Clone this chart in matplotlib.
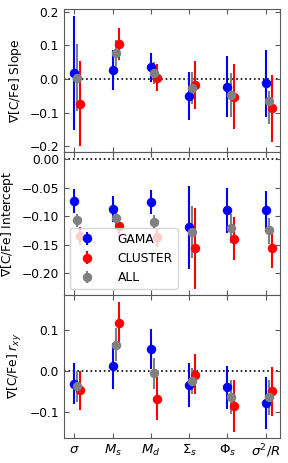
import numpy as np
import matplotlib
matplotlib.use('Agg')
import matplotlib.pyplot as plt

labels = [r'$\sigma$', r'$M_s$', r'$M_d$', r'$\Sigma_s$', r'$\Phi_s$', r'$\sigma^2/R$']

# slope: value, lower end, upper end
slope_gama = [0.018, 0.028, 0.035, -0.050, -0.023, -0.013]
slope_gama_lo = [-0.152, -0.032, -0.009, -0.121, -0.113, -0.113]
slope_gama_hi = [0.186, 0.085, 0.077, 0.021, 0.067, 0.087]
slope_all = [0.004, 0.076, 0.019, -0.026, -0.048, -0.065]
slope_all_lo = [-0.095, 0.038, -0.014, -0.073, -0.113, -0.133]
slope_all_hi = [0.103, 0.115, 0.050, 0.021, 0.018, -0.036]
slope_cl = [-0.074, 0.103, 0.004, -0.018, -0.053, -0.086]
slope_cl_lo = [-0.200, 0.055, -0.036, -0.089, -0.149, -0.187]
slope_cl_hi = [0.052, 0.150, 0.044, 0.053, 0.045, 0.012]

# intercept
int_gama = [-0.073, -0.0875, -0.075, -0.119, -0.090, -0.090]
int_gama_lo = [-0.094, -0.111, -0.096, -0.192, -0.129, -0.127]
int_gama_hi = [-0.052, -0.065, -0.055, -0.047, -0.050, -0.056]
int_all = [-0.107, -0.103, -0.111, -0.127, -0.121, -0.125]
int_all_lo = [-0.119, -0.116, -0.123, -0.173, -0.147, -0.148]
int_all_hi = [-0.096, -0.092, -0.098, -0.083, -0.096, -0.103]
int_cl = [-0.134, -0.118, -0.136, -0.156, -0.140, -0.156]
int_cl_lo = [-0.151, -0.135, -0.154, -0.227, -0.177, -0.191]
int_cl_hi = [-0.119, -0.103, -0.123, -0.086, -0.102, -0.122]

# correlation coefficient
r_gama = [-0.031, 0.012, 0.054, -0.034, -0.040, -0.079]
r_gama_lo = [-0.081, -0.045, 0.005, -0.087, -0.092, -0.142]
r_gama_hi = [0.020, 0.069, 0.102, 0.020, 0.011, -0.015]
r_all = [-0.038, 0.063, -0.006, -0.024, -0.063, -0.064]
r_all_lo = [-0.075, 0.023, -0.044, -0.057, -0.104, -0.107]
r_all_hi = [0.000, 0.104, 0.032, 0.006, -0.022, -0.022]
r_cl = [-0.046, 0.116, -0.068, -0.009, -0.085, -0.050]
r_cl_lo = [-0.096, 0.063, -0.119, -0.057, -0.150, -0.109]
r_cl_hi = [0.000, 0.167, -0.016, 0.041, -0.022, 0.009]

x = np.arange(len(labels))
spine_col = '0.35'
fs = 8.8

fig = plt.figure(figsize=(2.88, 4.63), dpi=100)
gs = fig.add_gridspec(3, 1, left=0.222, right=0.972, top=0.9795, bottom=0.0546, hspace=0)
axes = [fig.add_subplot(gs[i]) for i in range(3)]

panels = [
    (slope_gama, slope_gama_lo, slope_gama_hi, slope_cl, slope_cl_lo, slope_cl_hi,
     slope_all, slope_all_lo, slope_all_hi),
    (int_gama, int_gama_lo, int_gama_hi, int_cl, int_cl_lo, int_cl_hi,
     int_all, int_all_lo, int_all_hi),
    (r_gama, r_gama_lo, r_gama_hi, r_cl, r_cl_lo, r_cl_hi,
     r_all, r_all_lo, r_all_hi),
]


def err(v, lo, hi):
    v, lo, hi = np.array(v), np.array(lo), np.array(hi)
    return np.vstack([v - lo, hi - v])


for ax, p in zip(axes, panels):
    g, glo, ghi, c, clo, chi, a, alo, ahi = p
    ax.axhline(0, color='k', ls=':', lw=1.2, zorder=0)
    ax.errorbar(x, g, yerr=err(g, glo, ghi), fmt='o', color='blue', ms=5.8,
                elinewidth=1.5, capsize=0, label='GAMA')
    ax.errorbar(x + 0.16, c, yerr=err(c, clo, chi), fmt='o', color='red', ms=5.8,
                elinewidth=1.5, capsize=0, label='CLUSTER')
    ax.errorbar(x + 0.08, a, yerr=err(a, alo, ahi), fmt='o', color='grey', ms=5.8,
                elinewidth=1.5, capsize=0, label='ALL')
    ax.set_xlim(-0.27, 5.37)
    ax.set_xticks(x)
    ax.tick_params(direction='in', top=True, right=True, labelsize=fs,
                   color=spine_col, length=3.5)
    for s in ax.spines.values():
        s.set_color(spine_col)

axes[0].set_ylim(-0.217, 0.206)
axes[0].set_yticks([-0.2, -0.1, 0.0, 0.1, 0.2])
axes[1].set_ylim(-0.238, 0.012)
axes[1].set_yticks([-0.20, -0.15, -0.10, -0.05, 0.00])
axes[1].set_yticklabels(['\u22120.20', '\u22120.15', '\u22120.10', '\u22120.05', '0.00'])
axes[2].set_ylim(-0.163, 0.185)
axes[2].set_yticks([-0.1, 0.0, 0.1])

axes[0].set_xticklabels([])
axes[1].set_xticklabels([])
axes[2].set_xticklabels(labels, fontsize=9.5)

axes[0].set_ylabel(r'$\nabla$[C/Fe] Slope', fontsize=fs)
axes[1].set_ylabel(r'$\nabla$[C/Fe] Intercept', fontsize=fs)
axes[2].set_ylabel(r'$\nabla$[C/Fe] $r_{xy}$', fontsize=fs)

axes[1].legend(loc='lower left', fontsize=fs, borderaxespad=0.5, handletextpad=1.5)

fig.savefig('out.png', dpi=100)
